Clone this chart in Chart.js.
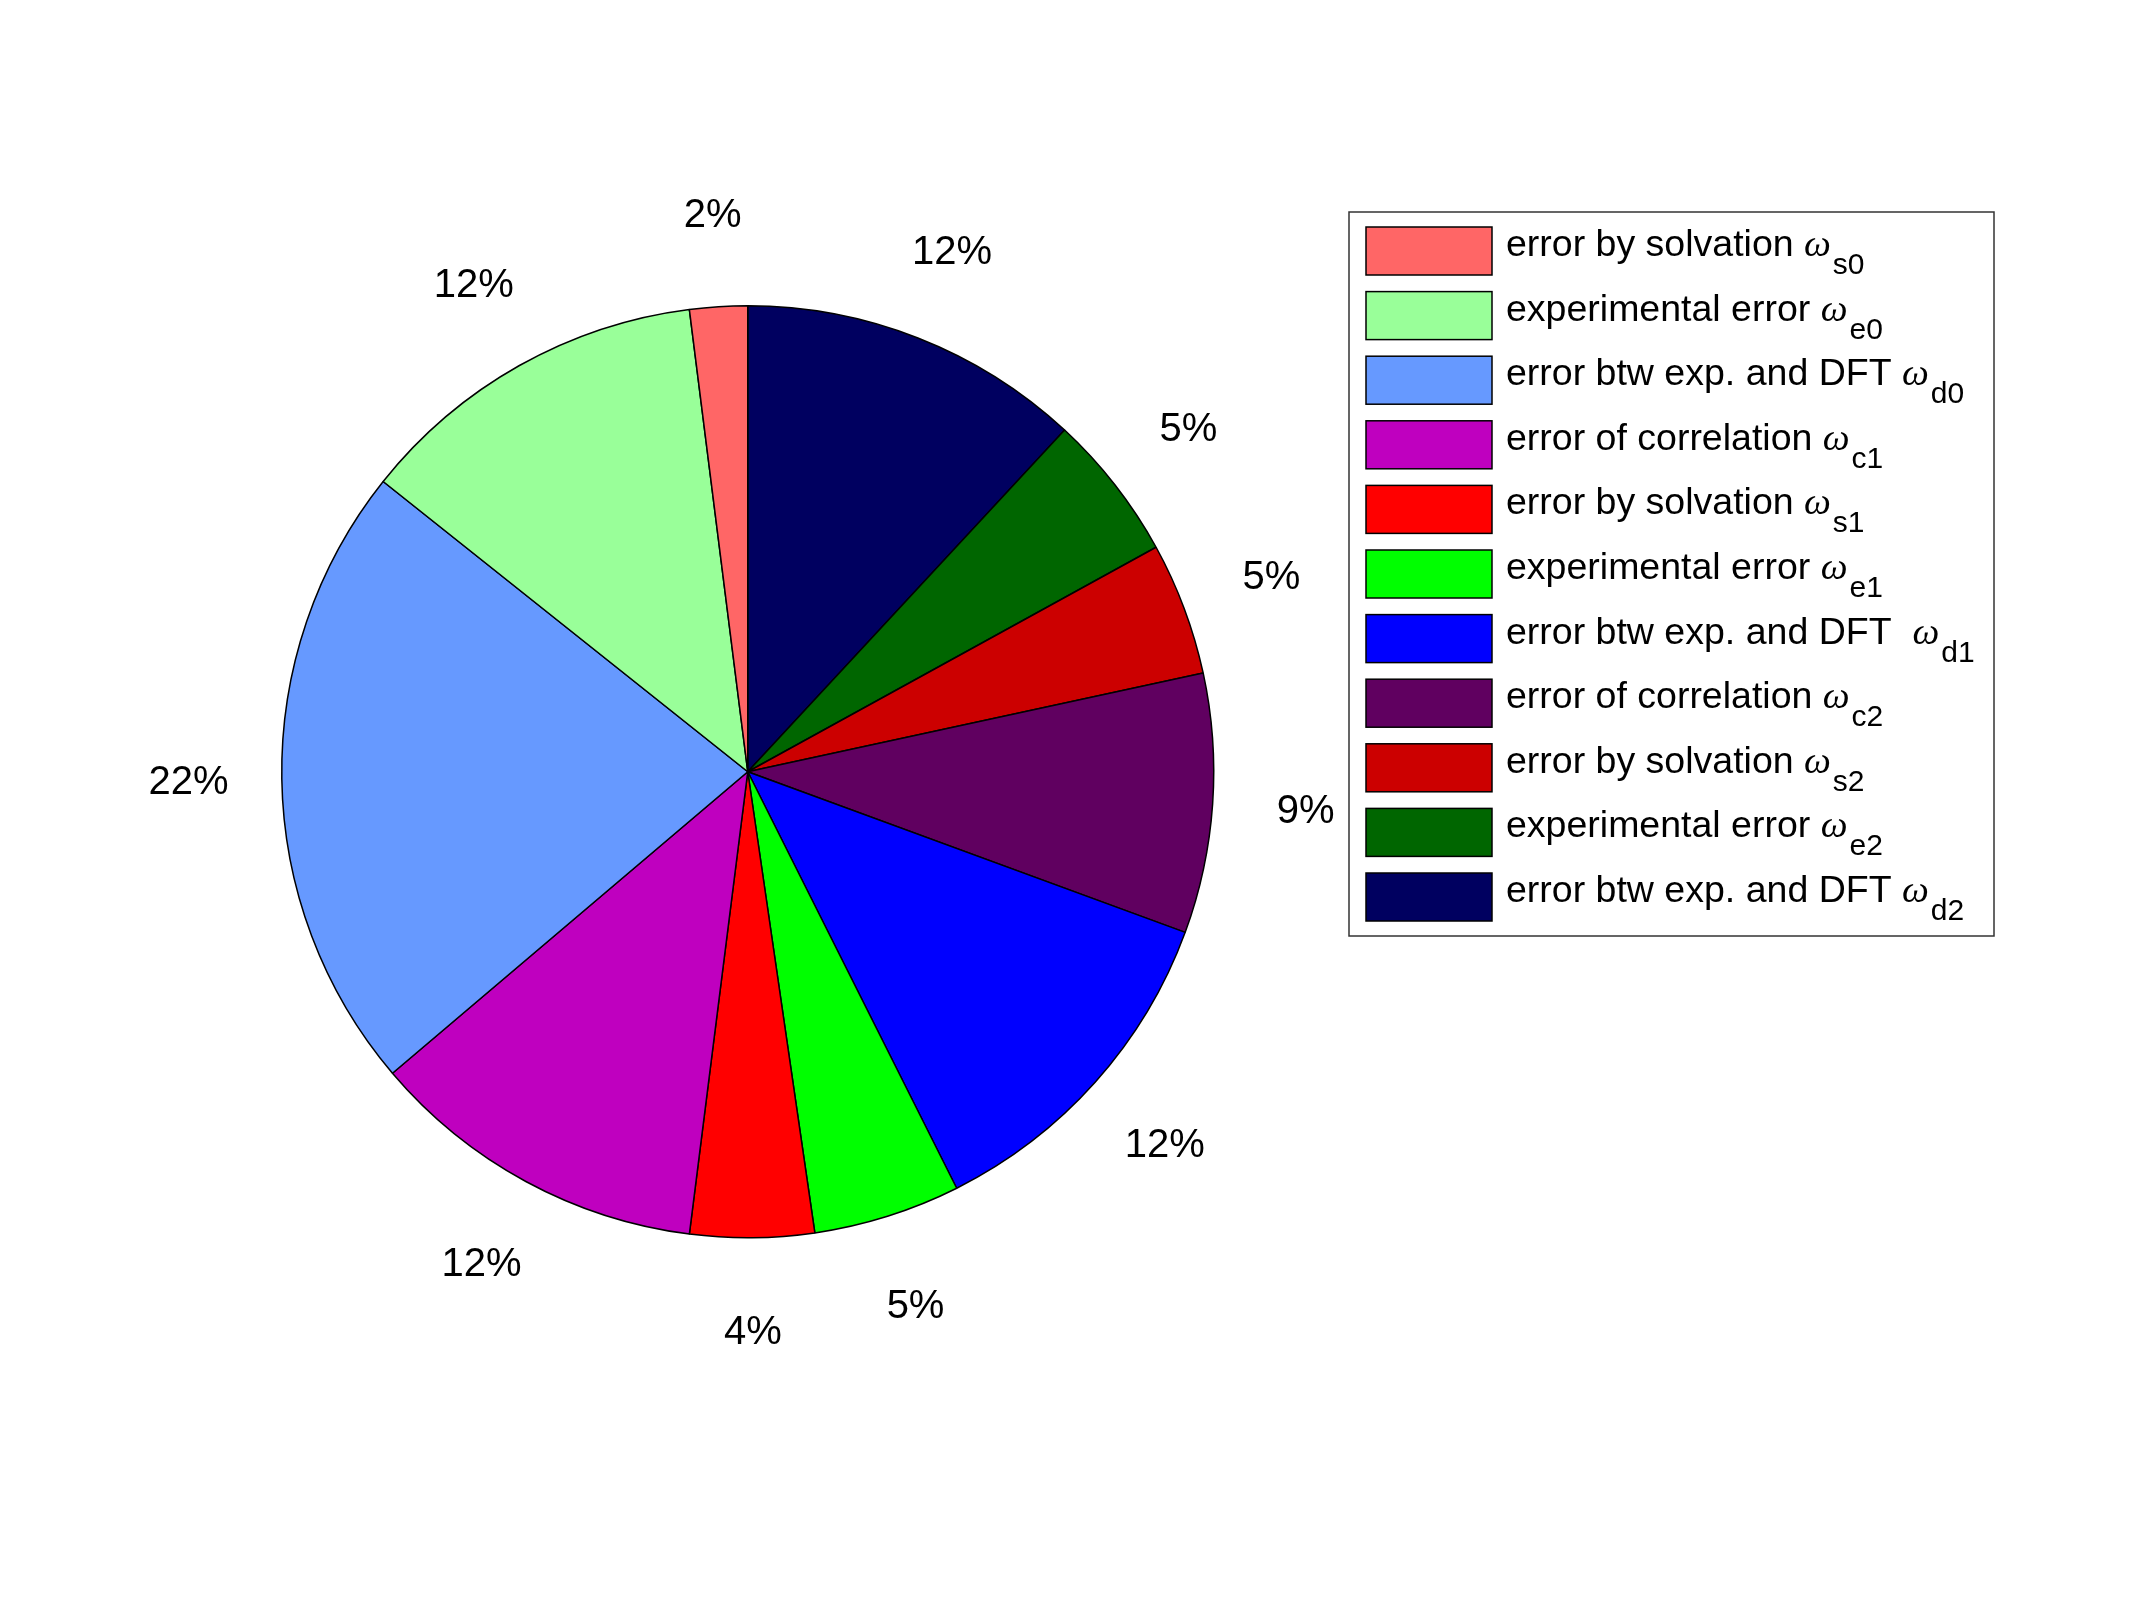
<!DOCTYPE html>
<html lang="en">
<head>
  <meta charset="UTF-8">
  <title>Error contributions</title>
  <script src="https://cdn.jsdelivr.net/npm/chart.js"></script>
  <style>
    * {
      margin: 0;
      padding: 0;
      box-sizing: border-box;
    }

    body {
      background-color: #fff;
    }

    .chart-container {
      position: relative;
      width: 2133px;
      height: 1600px;
    }
  </style>
</head>
<body>
  <div class="chart-container">
    <canvas id="pieChart"></canvas>
  </div>

  <script>
    // legend order (MATLAB draws these counterclockwise from 12 o'clock)
    const labels = [
      'error by solvation',
      'experimental error',
      'error btw exp. and DFT',
      'error of correlation',
      'error by solvation',
      'experimental error',
      'error btw exp. and DFT ',
      'error of correlation',
      'error by solvation',
      'experimental error',
      'error btw exp. and DFT'
    ];
    const subscripts = ['s0', 'e0', 'd0', 'c1', 's1', 'e1', 'd1', 'c2', 's2', 'e2', 'd2'];
    const shares = [2.0, 12.3, 21.9, 11.8, 4.3, 5.1, 12.0, 9.0, 4.6, 5.1, 11.9];
    const colors = [
      '#ff6666', '#99ff99', '#6699ff', '#bf00bf', '#ff0000', '#00ff00',
      '#0000ff', '#600060', '#cc0000', '#006600', '#000060'
    ];

    // Chart.js goes clockwise, so feed it reversed
    const pieValues = shares.slice().reverse();
    const pieColors = colors.slice().reverse();
    const pieLabels = subscripts.slice().reverse();

    const percentLabels = {
      id: 'percentLabels',
      afterDatasetsDraw(chart) {
        const ctx = chart.ctx;
        const meta = chart.getDatasetMeta(0);
        const data = chart.data.datasets[0].data;
        const total = data.reduce((a, b) => a + b, 0);
        ctx.save();
        ctx.font = '40px "Liberation Sans", Arial, sans-serif';
        ctx.fillStyle = '#000';
        ctx.textAlign = 'center';
        ctx.textBaseline = 'middle';
        meta.data.forEach((arc, i) => {
          const p = arc.getProps(['x', 'y', 'startAngle', 'endAngle', 'outerRadius'], true);
          const mid = (p.startAngle + p.endAngle) / 2;
          const r = p.outerRadius * 1.2;
          ctx.fillText(Math.round(data[i] / total * 100) + '%', p.x + Math.cos(mid) * r, p.y + Math.sin(mid) * r + 2);
        });
        ctx.restore();
      }
    };

    // legend with omega + subscripts, drawn on the canvas
    const texLegend = {
      id: 'texLegend',
      afterDraw(chart) {
        const ctx = chart.ctx;
        const boxX = 1349, boxY = 212, boxW = 645, boxH = 724;
        const swX = 1366, swW = 126, swH = 48, firstTop = 227, step = 64.6;
        const textX = 1506;
        ctx.save();
        ctx.fillStyle = '#fff';
        ctx.fillRect(boxX, boxY, boxW, boxH);
        ctx.lineWidth = 1.5;
        ctx.strokeStyle = '#333';
        ctx.strokeRect(boxX, boxY, boxW, boxH);

        labels.forEach((txt, i) => {
          const top = firstTop + i * step;
          ctx.fillStyle = colors[i];
          ctx.fillRect(swX, top, swW, swH);
          ctx.strokeStyle = '#000';
          ctx.strokeRect(swX, top, swW, swH);

          const base = top + 29;
          ctx.fillStyle = '#000';
          ctx.textBaseline = 'alphabetic';
          ctx.textAlign = 'left';
          ctx.font = '37.5px "Liberation Sans", Arial, sans-serif';
          const main = txt + ' ';
          ctx.fillText(main, textX, base);
          let x = textX + ctx.measureText(main).width;
          ctx.font = 'italic 38px "Liberation Serif", serif';
          ctx.fillText('\u03c9', x, base);
          x += ctx.measureText('\u03c9').width + 2;
          ctx.font = '30px "Liberation Sans", Arial, sans-serif';
          ctx.fillText(subscripts[i], x, base + 18);
        });
        ctx.restore();
      }
    };

    const ctx1 = document.getElementById('pieChart').getContext('2d');
    new Chart(ctx1, {
      type: 'pie',
      data: {
        labels: pieLabels,
        datasets: [{
          data: pieValues,
          backgroundColor: pieColors,
          borderColor: '#000',
          borderWidth: 1.5
        }]
      },
      options: {
        responsive: true,
        maintainAspectRatio: false,
        animation: false,
        layout: {
          padding: { left: 281, top: 305, right: 918.5, bottom: 361.5 }
        },
        plugins: {
          legend: { display: false },
          tooltip: { enabled: false }
        }
      },
      plugins: [percentLabels, texLegend]
    });
  </script>
</body>
</html>
